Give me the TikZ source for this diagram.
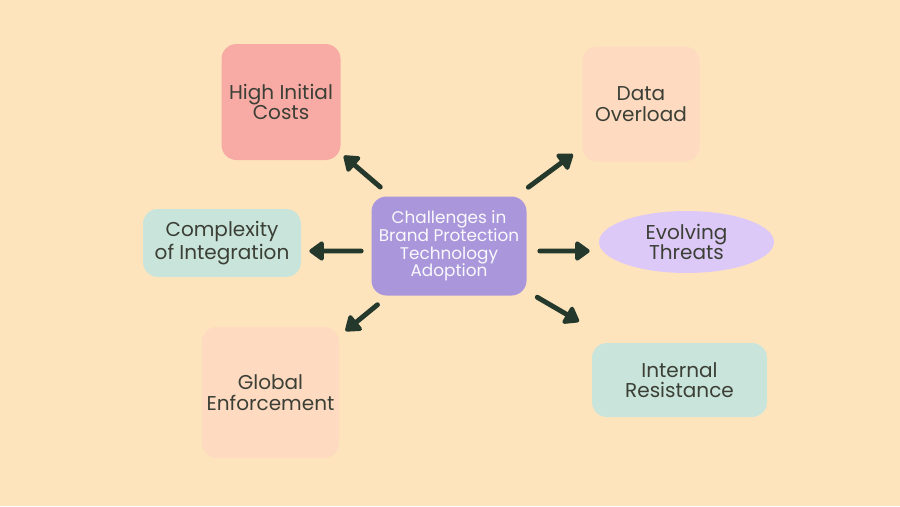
\documentclass[tikz,border=0pt]{standalone}
\usepackage{fontspec}
\setmainfont{Poppins}
\usetikzlibrary{positioning, arrows.meta, calc, shapes.geometric}
\definecolor{bgpeach}{HTML}{FEE4BD}
\definecolor{inkdark}{HTML}{3B3F36}
\definecolor{arrowink}{HTML}{24382C}
\definecolor{hubviolet}{HTML}{A996DB}
\definecolor{boxpink}{HTML}{F8ABA4}
\definecolor{boxpeach}{HTML}{FDDAC0}
\definecolor{boxteal}{HTML}{C9E4DA}
\definecolor{boxlilac}{HTML}{DDC9F8}

\begin{document}
\begin{tikzpicture}[font=\fontsize{11.4}{11.6}\selectfont,
          card/.style={rounded corners=3mm, text=inkdark, align=center, inner sep=1pt},
          hub/.style={card, fill=hubviolet, text=white!94!hubviolet, font=\fontsize{9.6}{10}\selectfont},
          push/.style={-{Triangle[length=3.2mm, width=4.4mm, round]}, line width=2.8pt, arrowink, line cap=round}]
        \fill[bgpeach] (0,0) rectangle (18,-10.12);
        \useasboundingbox (0,0) rectangle (18,-10.12);
        \node[hub, minimum width=31mm, minimum height=19.8mm] (C) at (8.98,-4.92) {Challenges in\\Brand Protection\\Technology\\Adoption};
        \node[card, fill=boxpink,  minimum width=23.8mm, minimum height=23.2mm] (H) at (5.62,-2.04) {High Initial\\Costs};
        \node[card, fill=boxpeach, minimum width=23.4mm, minimum height=23mm]   (D) at (12.82,-2.08) {Data\\Overload};
        \node[card, fill=boxteal,  minimum width=31.6mm, minimum height=13.6mm] (I) at (4.44,-4.86) {Complexity\\of Integration};
        \node[ellipse, fill=boxlilac, text=inkdark, align=center, minimum width=35mm, minimum height=12.4mm, inner sep=0pt] (E) at (13.73,-4.84) {Evolving\\Threats};
        \node[card, fill=boxpeach, minimum width=27.4mm, minimum height=26.2mm] (G) at (5.41,-7.85) {Global\\Enforcement};
        \node[card, fill=boxteal,  minimum width=35mm, minimum height=14.8mm]   (R) at (13.59,-7.6) {Internal\\Resistance};
        \draw[push, shorten <=2.8mm, shorten >=0.8mm] (C) -- (H);
        \draw[push, shorten <=3mm, shorten >=2.3mm] (C) -- (D);
        \draw[push, shorten <=2mm, shorten >=1.6mm] ([yshift=-1mm]C.west) -- ([yshift=-1.6mm]I.east);
        \draw[push, shorten <=2.6mm, shorten >=1.8mm] ([yshift=-1mm]C.east) -- ([yshift=-1.8mm]E.west);
        \draw[push, shorten <=2.8mm, shorten >=1.6mm] (C) -- (G);
        \draw[push, shorten <=2.4mm, shorten >=8.4mm] (C) -- (R);
      \end{tikzpicture}
\end{document}
